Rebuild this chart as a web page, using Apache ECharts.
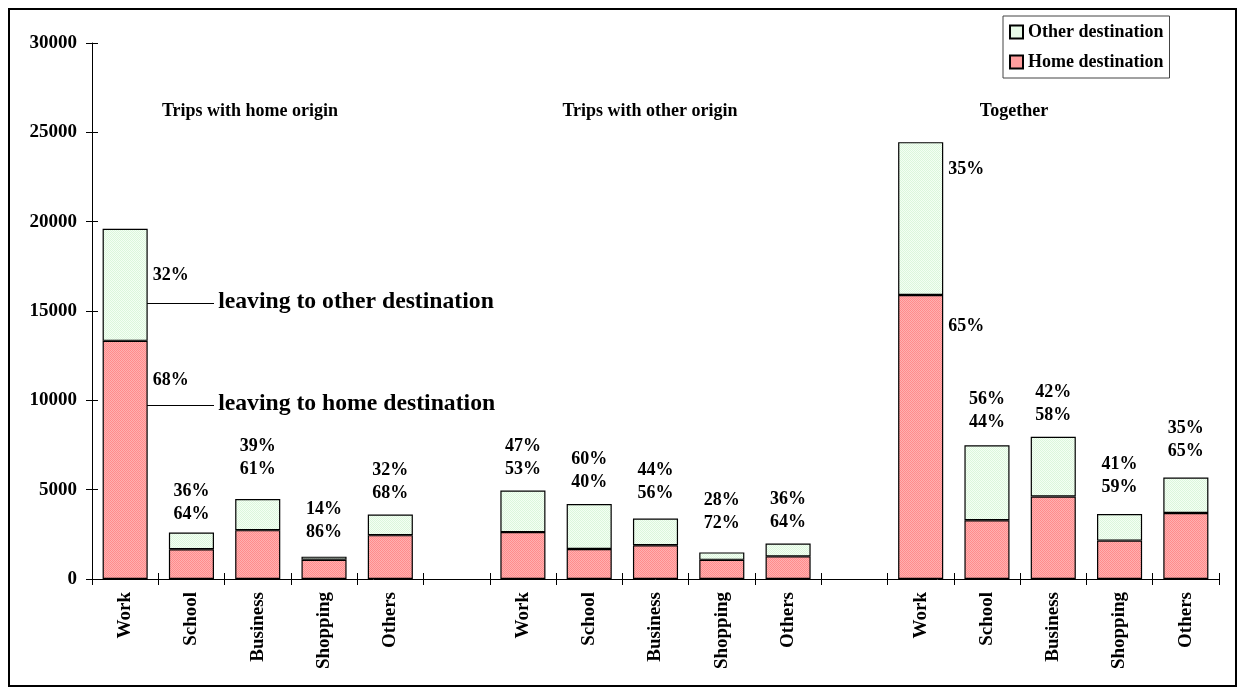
<!DOCTYPE html>
<html>
<head>
<meta charset="utf-8">
<script src="https://cdn.jsdelivr.net/npm/echarts@6/dist/echarts.min.js"></script>
<style>
  html, body { margin: 0; padding: 0; background: #fff; }
  #main { width: 1239px; height: 690px; }
</style>
</head>
<body>
<div id="main"></div>
<script>
// Trip purposes, three groups separated by an empty slot
const categories = [
  'Work', 'School', 'Business', 'Shopping', 'Others', '',
  'Work', 'School', 'Business', 'Shopping', 'Others', '',
  'Work', 'School', 'Business', 'Shopping', 'Others'
];
// Total trips per purpose
const totalTrips = [
  19600, 2600, 4480, 1250, 3610, null,
  4950, 4200, 3380, 1490, 1980, null,
  24450, 7480, 7960, 3640, 5680
];
// Share of trips going to a home destination (%)
const homeShare = [
  68, 64, 61, 86, 68, null,
  53, 40, 56, 72, 64, null,
  65, 44, 58, 59, 65
];
const groupTitles = ['Trips with home origin', 'Trips with other origin', 'Together'];
const seriesNames = ['Home destination', 'Other destination'];
const yTicks = { min: 0, max: 30000, step: 5000 };

const homeTrips = totalTrips.map((t, i) => t == null ? null : Math.round(t * homeShare[i] / 100));
const otherTrips = totalTrips.map((t, i) => t == null ? null : t - homeTrips[i]);

// label layout: Work bars with labels beside them, others with labels on top
const sideLabel = { 0: { other: 47, home: 39 }, 12: { other: 27, home: 31 } };
const topGap = [null, 18, 30, 24, 21, null, 21, 22, 25, 29, 21, null, null, 23, 21, 27, 26];

const SERIF = '"Liberation Serif", "Times New Roman", serif';
const txt = { fontFamily: SERIF, fontWeight: 'bold', color: '#000' };

function dotted(base, dot) {
  const c = document.createElement('canvas');
  c.width = 4; c.height = 4;
  const g = c.getContext('2d');
  g.fillStyle = base; g.fillRect(0, 0, 4, 4);
  g.fillStyle = dot;
  for (let y = 0; y < 4; y++) for (let x = 0; x < 4; x++) if ((x + y) % 2 === 0) g.fillRect(x, y, 1, 1);
  return { image: c, repeat: 'repeat' };
}
const redFill = dotted('#ffb0b0', '#ff8c8c');
const greenFill = dotted('#f4fff4', '#dcf6dc');

const homeData = homeTrips.map((v, i) => {
  if (v == null) return null;
  const item = { value: v };
  if (sideLabel[i]) {
    item.label = {
      show: true, position: ['100%', sideLabel[i].home], align: 'left', verticalAlign: 'middle',
      offset: [5, 0], formatter: homeShare[i] + '%', ...txt, fontSize: 18
    };
  }
  return item;
});
const otherData = otherTrips.map((v, i) => {
  if (v == null) return null;
  const item = { value: v };
  if (sideLabel[i]) {
    item.label = {
      show: true, position: ['100%', sideLabel[i].other], align: 'left', verticalAlign: 'middle',
      offset: [5, 0], formatter: (100 - homeShare[i]) + '%', ...txt, fontSize: 18
    };
  } else {
    item.label = {
      show: true, position: 'top', distance: topGap[i] - 11.5,
      formatter: (100 - homeShare[i]) + '%\n' + homeShare[i] + '%',
      ...txt, fontSize: 18, lineHeight: 23
    };
  }
  return item;
});

const chart = echarts.init(document.getElementById('main'), null, { renderer: 'canvas' });

const option = {
  animation: false,
  backgroundColor: '#fff',
  grid: { left: 92, right: 20, top: 43, bottom: 111, containLabel: false },
  legend: {
    orient: 'vertical',
    left: 1003, top: 16,
    data: [seriesNames[1], seriesNames[0]],
    itemWidth: 13, itemHeight: 13, itemGap: 12,
    padding: [7, 6, 7, 6],
    borderColor: '#444', borderWidth: 1,
    textStyle: { ...txt, fontSize: 18 },
    icon: 'rect'
  },
  xAxis: [
    {
      type: 'category', data: categories, position: 'bottom',
      axisLine: { lineStyle: { color: '#000', width: 1 } },
      axisTick: { show: true, interval: 0, length: 6, alignWithLabel: false, lineStyle: { color: '#000' } },
      axisLabel: { interval: 0, rotate: 90, margin: 13, ...txt, fontSize: 19 },
      splitLine: { show: false }
    },
    {
      type: 'category', data: categories, position: 'bottom', gridIndex: 0,
      axisLine: { show: false },
      axisTick: { show: true, inside: true, interval: 0, length: 6, lineStyle: { color: '#000' } },
      axisLabel: { show: false },
      splitLine: { show: false }
    }
  ],
  yAxis: [
    {
      type: 'value', min: yTicks.min, max: yTicks.max, interval: yTicks.step, position: 'left',
      axisLine: { show: true, lineStyle: { color: '#000', width: 1 } },
      axisTick: { show: true, length: 6, lineStyle: { color: '#000' } },
      axisLabel: { margin: 15, ...txt, fontSize: 19, formatter: v => String(v) },
      splitLine: { show: false }
    },
    {
      type: 'value', min: yTicks.min, max: yTicks.max, interval: yTicks.step, position: 'left',
      axisLine: { show: false },
      axisTick: { show: true, inside: true, length: 6, lineStyle: { color: '#000' } },
      axisLabel: { show: false },
      splitLine: { show: false }
    }
  ],
  series: [
    {
      name: seriesNames[0], type: 'bar', stack: 'trips', barWidth: '68%',
      xAxisIndex: 0, yAxisIndex: 0,
      itemStyle: { color: redFill, borderColor: '#000', borderWidth: 1.2 },
      data: homeData
    },
    {
      name: seriesNames[1], type: 'bar', stack: 'trips', barWidth: '68%',
      xAxisIndex: 0, yAxisIndex: 0,
      itemStyle: { color: greenFill, borderColor: '#000', borderWidth: 1.2 },
      data: otherData
    }
  ]
};
chart.setOption(option);

// group headings, annotation callouts and the outer frame
const toPx = (cat, val) => chart.convertToPixel({ xAxisIndex: 0, yAxisIndex: 0 }, [cat, val]);
const headY = toPx(0, 26150)[1];
const headX = [250, 650, 1014];
const callouts = [
  { text: 'leaving to other destination', value: 15450 },
  { text: 'leaving to home destination', value: 9740 }
];
const graphics = [];
groupTitles.forEach((t, i) => {
  graphics.push({
    type: 'text', x: headX[i], y: headY,
    style: { text: t, font: 'bold 18px ' + SERIF, fill: '#000', textAlign: 'center', textVerticalAlign: 'middle' }
  });
});
callouts.forEach(c => {
  const p = toPx(0, c.value);
  const ly = Math.round(p[1]) + 0.5;
  graphics.push({
    type: 'line', shape: { x1: Math.round(p[0] + 16), y1: ly, x2: Math.round(p[0] + 89), y2: ly },
    style: { stroke: '#000', lineWidth: 1 }
  });
  graphics.push({
    type: 'text', x: p[0] + 93, y: p[1] - 1,
    style: { text: c.text, font: 'bold 23.7px ' + SERIF, fill: '#000', textAlign: 'left', textVerticalAlign: 'middle' }
  });
});
graphics.push({
  type: 'rect', shape: { x: 9, y: 9, width: 1227, height: 677 },
  style: { fill: 'none', stroke: '#000', lineWidth: 2 }, silent: true
});
chart.setOption({ graphic: graphics });
</script>
</body>
</html>
